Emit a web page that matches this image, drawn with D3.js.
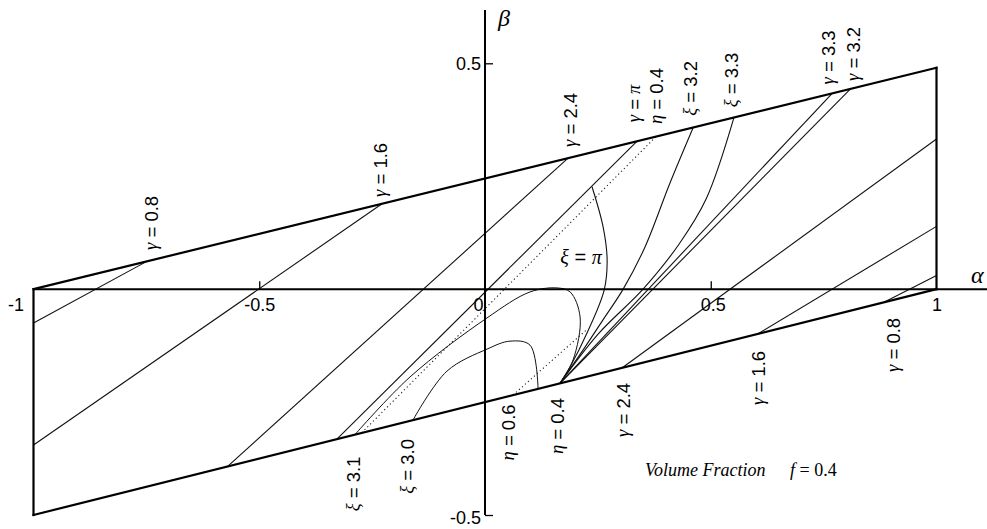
<!DOCTYPE html>
<html><head><meta charset="utf-8">
<script src="https://cdn.jsdelivr.net/npm/d3@7"></script>
<style>
html,body{margin:0;padding:0;background:#fff;}
svg{display:block;}
</style></head><body>
<svg id="chart" width="987" height="529"></svg>
<script>
// Admissible region in the (alpha, beta) plane: a parallelogram
const upperEdge = [[-1, 0], [1, 0.49]];
const lowerEdge = [[-1, -0.5], [1, 0]];
const leftEdge  = [[-1, 0], [-1, -0.5]];
const rightEdge = [[1, 0], [1, 0.49]];

// Straight gamma = const lines
const gammaLines = [
  [[-1, -0.075], [-0.749, 0.0615]],          // gamma 0.8 (left piece)
  [[-1, -0.345], [-0.228, 0.189]],           // gamma 1.6 (left piece)
  [[-0.570, -0.3925], [0.184, 0.290]],       // gamma 2.4 (left piece)
  [[-0.328, -0.332], [0.337, 0.3276]],       // gamma pi
  [[0.304, -0.174], [1, 0.3325]],            // gamma 2.4 (right piece)
  [[0.605, -0.0987], [1, 0.139]],            // gamma 1.6 (right piece)
  [[0.8825, -0.0294], [1, 0.030]],           // gamma 0.8 (right piece)
  [[0.166, -0.2085], [0.769, 0.4335]],       // gamma 3.3
  [[0.166, -0.2085], [0.809, 0.443]]         // gamma 3.2
];

// xi = const curves
const xiCurves = [
  [[0.237, 0.2267], [0.2616, 0.1377], [0.2705, 0.0646], [0.2639, -0.002], [0.2262, -0.0965], [0.1885, -0.1718], [0.166, -0.2085]],
  [[0.166, -0.2085], [0.217, -0.135], [0.2613, -0.068], [0.306, 0.0], [0.3544, 0.0934], [0.4097, 0.2351], [0.4607, 0.3569]],
  [[0.166, -0.2085], [0.25, -0.10], [0.35, 0.0], [0.43, 0.10], [0.49, 0.20], [0.5515, 0.3801]]
];

// eta = const loops
const etaCurves = [
  [[-0.288, -0.322], [-0.166, -0.1943], [0.0044, -0.0637], [0.0998, -0.0062], [0.1596, 0.0027], [0.1885, -0.0062], [0.2106, -0.0615], [0.1951, -0.1567], [0.166, -0.2085]],
  [[-0.1596, -0.290], [-0.0843, -0.1815], [0.0044, -0.1328], [0.0554, -0.1151], [0.0998, -0.1240], [0.1175, -0.2206]]
];

// dotted guide lines
const dottedLines = [
  [[-0.273, -0.318], [0.379, 0.338]],
  [[0.062, -0.2345], [0.226, -0.089]]
];

// axis tick labels
const alphaTicks = [-1, -0.5, 0, 0.5, 1];
const alphaTickLabels = ["-1", "-0.5", "0", "0.5", "1"];
const betaTicks = [-0.5, 0.5];
const betaTickLabels = ["-0.5", "0.5"];

// curve labels: symbol, value, label centre (alpha, beta)
const topLabels = [
  ["γ", "0.8", [-0.740, 0.1466]],
  ["γ", "1.6", [-0.2326, 0.2639]],
  ["γ", "2.4", [0.1883, 0.3746]],
  ["γ", "π",   [0.330, 0.4111]],
  ["η", "0.4", [0.3787, 0.4277]],
  ["ξ", "3.2", [0.4540, 0.4443]],
  ["ξ", "3.3", [0.5449, 0.4631]],
  ["γ", "3.3", [0.7597, 0.5130]],
  ["γ", "3.2", [0.8151, 0.5207]]
];
const bottomLabels = [
  ["ξ", "3.1", [-0.2924, -0.4313]],
  ["ξ", "3.0", [-0.1728, -0.3925]],
  ["η", "0.6", [0.0509, -0.3172]],
  ["η", "0.4", [0.1595, -0.3029]],
  ["γ", "2.4", [0.3056, -0.2674]],
  ["γ", "1.6", [0.6047, -0.1966]],
  ["γ", "0.8", [0.9037, -0.1235]]
];
const xiPiLabel = ["ξ", "π", [0.2126, 0.0713]];

const svg = d3.select("#chart");
const W = 987, H = 529;
const x = d3.scaleLinear().domain([-1, 1]).range([33.5, 936.5]);
const y = d3.scaleLinear().domain([-0.5, 0.5]).range([515, 63.3]);

const serif = "'Liberation Serif', 'DejaVu Serif', serif";
const sans = "'Liberation Sans', Arial, sans-serif";

const straight = d3.line().x(d => x(d[0])).y(d => y(d[1]));
const smooth = d3.line().x(d => x(d[0])).y(d => y(d[1])).curve(d3.curveCatmullRom.alpha(0.5));

const g = svg.append("g");

// interior families
g.selectAll(".gamma").data(gammaLines).join("path")
  .attr("d", straight).attr("fill", "none").attr("stroke", "#111").attr("stroke-width", 1.1);
g.selectAll(".xi").data(xiCurves).join("path")
  .attr("d", smooth).attr("fill", "none").attr("stroke", "#111").attr("stroke-width", 1.1);
g.selectAll(".eta").data(etaCurves).join("path")
  .attr("d", smooth).attr("fill", "none").attr("stroke", "#111").attr("stroke-width", 1);
g.selectAll(".dot").data(dottedLines).join("path")
  .attr("d", straight).attr("fill", "none").attr("stroke", "#222").attr("stroke-width", 1.1)
  .attr("stroke-dasharray", "1.2,2.8");

// region boundary
g.selectAll(".edge").data([upperEdge, lowerEdge, leftEdge, rightEdge]).join("path")
  .attr("d", straight).attr("fill", "none").attr("stroke", "#000").attr("stroke-width", 2.2)
  .attr("stroke-linecap", "square");

// alpha axis
g.append("line").attr("x1", x(-1)).attr("x2", W).attr("y1", y(0)).attr("y2", y(0))
  .attr("stroke", "#000").attr("stroke-width", 2);
const ax = g.append("g").attr("transform", `translate(0,${y(0)})`)
  .call(d3.axisBottom(x).tickValues(alphaTicks)
    .tickFormat((d, i) => alphaTickLabels[i]).tickSizeInner(-8).tickSizeOuter(0).tickPadding(8));
ax.select(".domain").remove();
ax.selectAll(".tick line").attr("stroke-width", 1.3)
  .attr("display", d => (d === -0.5 || d === 0.5) ? null : "none");
ax.selectAll(".tick text").attr("font-family", sans).attr("font-size", 18).attr("fill", "#000")
  .attr("dx", d => d === -1 ? -18 : d === 0 ? -7 : d === 0.5 ? 2 : 0)
  .attr("y", 9);

// beta axis
g.append("line").attr("x1", x(0)).attr("x2", x(0)).attr("y1", 10).attr("y2", y(-0.5))
  .attr("stroke", "#000").attr("stroke-width", 2);
const ay = g.append("g").attr("transform", `translate(${x(0)},0)`)
  .call(d3.axisLeft(y).tickValues(betaTicks)
    .tickFormat((d, i) => betaTickLabels[i]).tickSizeInner(-8).tickSizeOuter(0).tickPadding(4));
ay.select(".domain").remove();
ay.selectAll(".tick line").attr("stroke-width", 1.3);
ay.selectAll(".tick text").attr("font-family", sans).attr("font-size", 18).attr("fill", "#000")
  .attr("dy", d => d < 0 ? "0.45em" : "0.32em");

// axis names
g.append("text").attr("x", 498).attr("y", 26).attr("font-family", serif).attr("font-style", "italic")
  .attr("font-size", 24).text("β");
g.append("text").attr("x", 971).attr("y", 283).attr("font-family", serif).attr("font-style", "italic")
  .attr("font-size", 24).text("α");

// curve labels
function label(sym, val, at, rotated, size) {
  const t = g.append("text")
    .attr("transform", `translate(${x(at[0])},${y(at[1])})` + (rotated ? " rotate(-90)" : ""))
    .attr("text-anchor", "middle").attr("dominant-baseline", "central")
    .attr("font-size", size).attr("fill", "#000");
  t.append("tspan").attr("font-family", serif).attr("font-style", "italic").text(sym);
  t.append("tspan").attr("font-family", sans).text(" = ");
  const isPi = val === "π";
  t.append("tspan").attr("font-family", isPi ? serif : sans)
    .attr("font-style", isPi ? "italic" : "normal").text(val);
}
topLabels.forEach(d => label(d[0], d[1], d[2], true, 18.5));
bottomLabels.forEach(d => label(d[0], d[1], d[2], true, 18.5));
label(xiPiLabel[0], xiPiLabel[1], xiPiLabel[2], false, 20);

// caption
const cap = g.append("text").attr("x", 645).attr("y", 476)
  .attr("font-family", serif).attr("font-size", 18).attr("fill", "#000");
cap.append("tspan").attr("font-style", "italic").text("Volume Fraction");
cap.append("tspan").attr("x", 790).attr("font-style", "italic").text("f");
cap.append("tspan").text(" = 0.4");
</script>
</body></html>
